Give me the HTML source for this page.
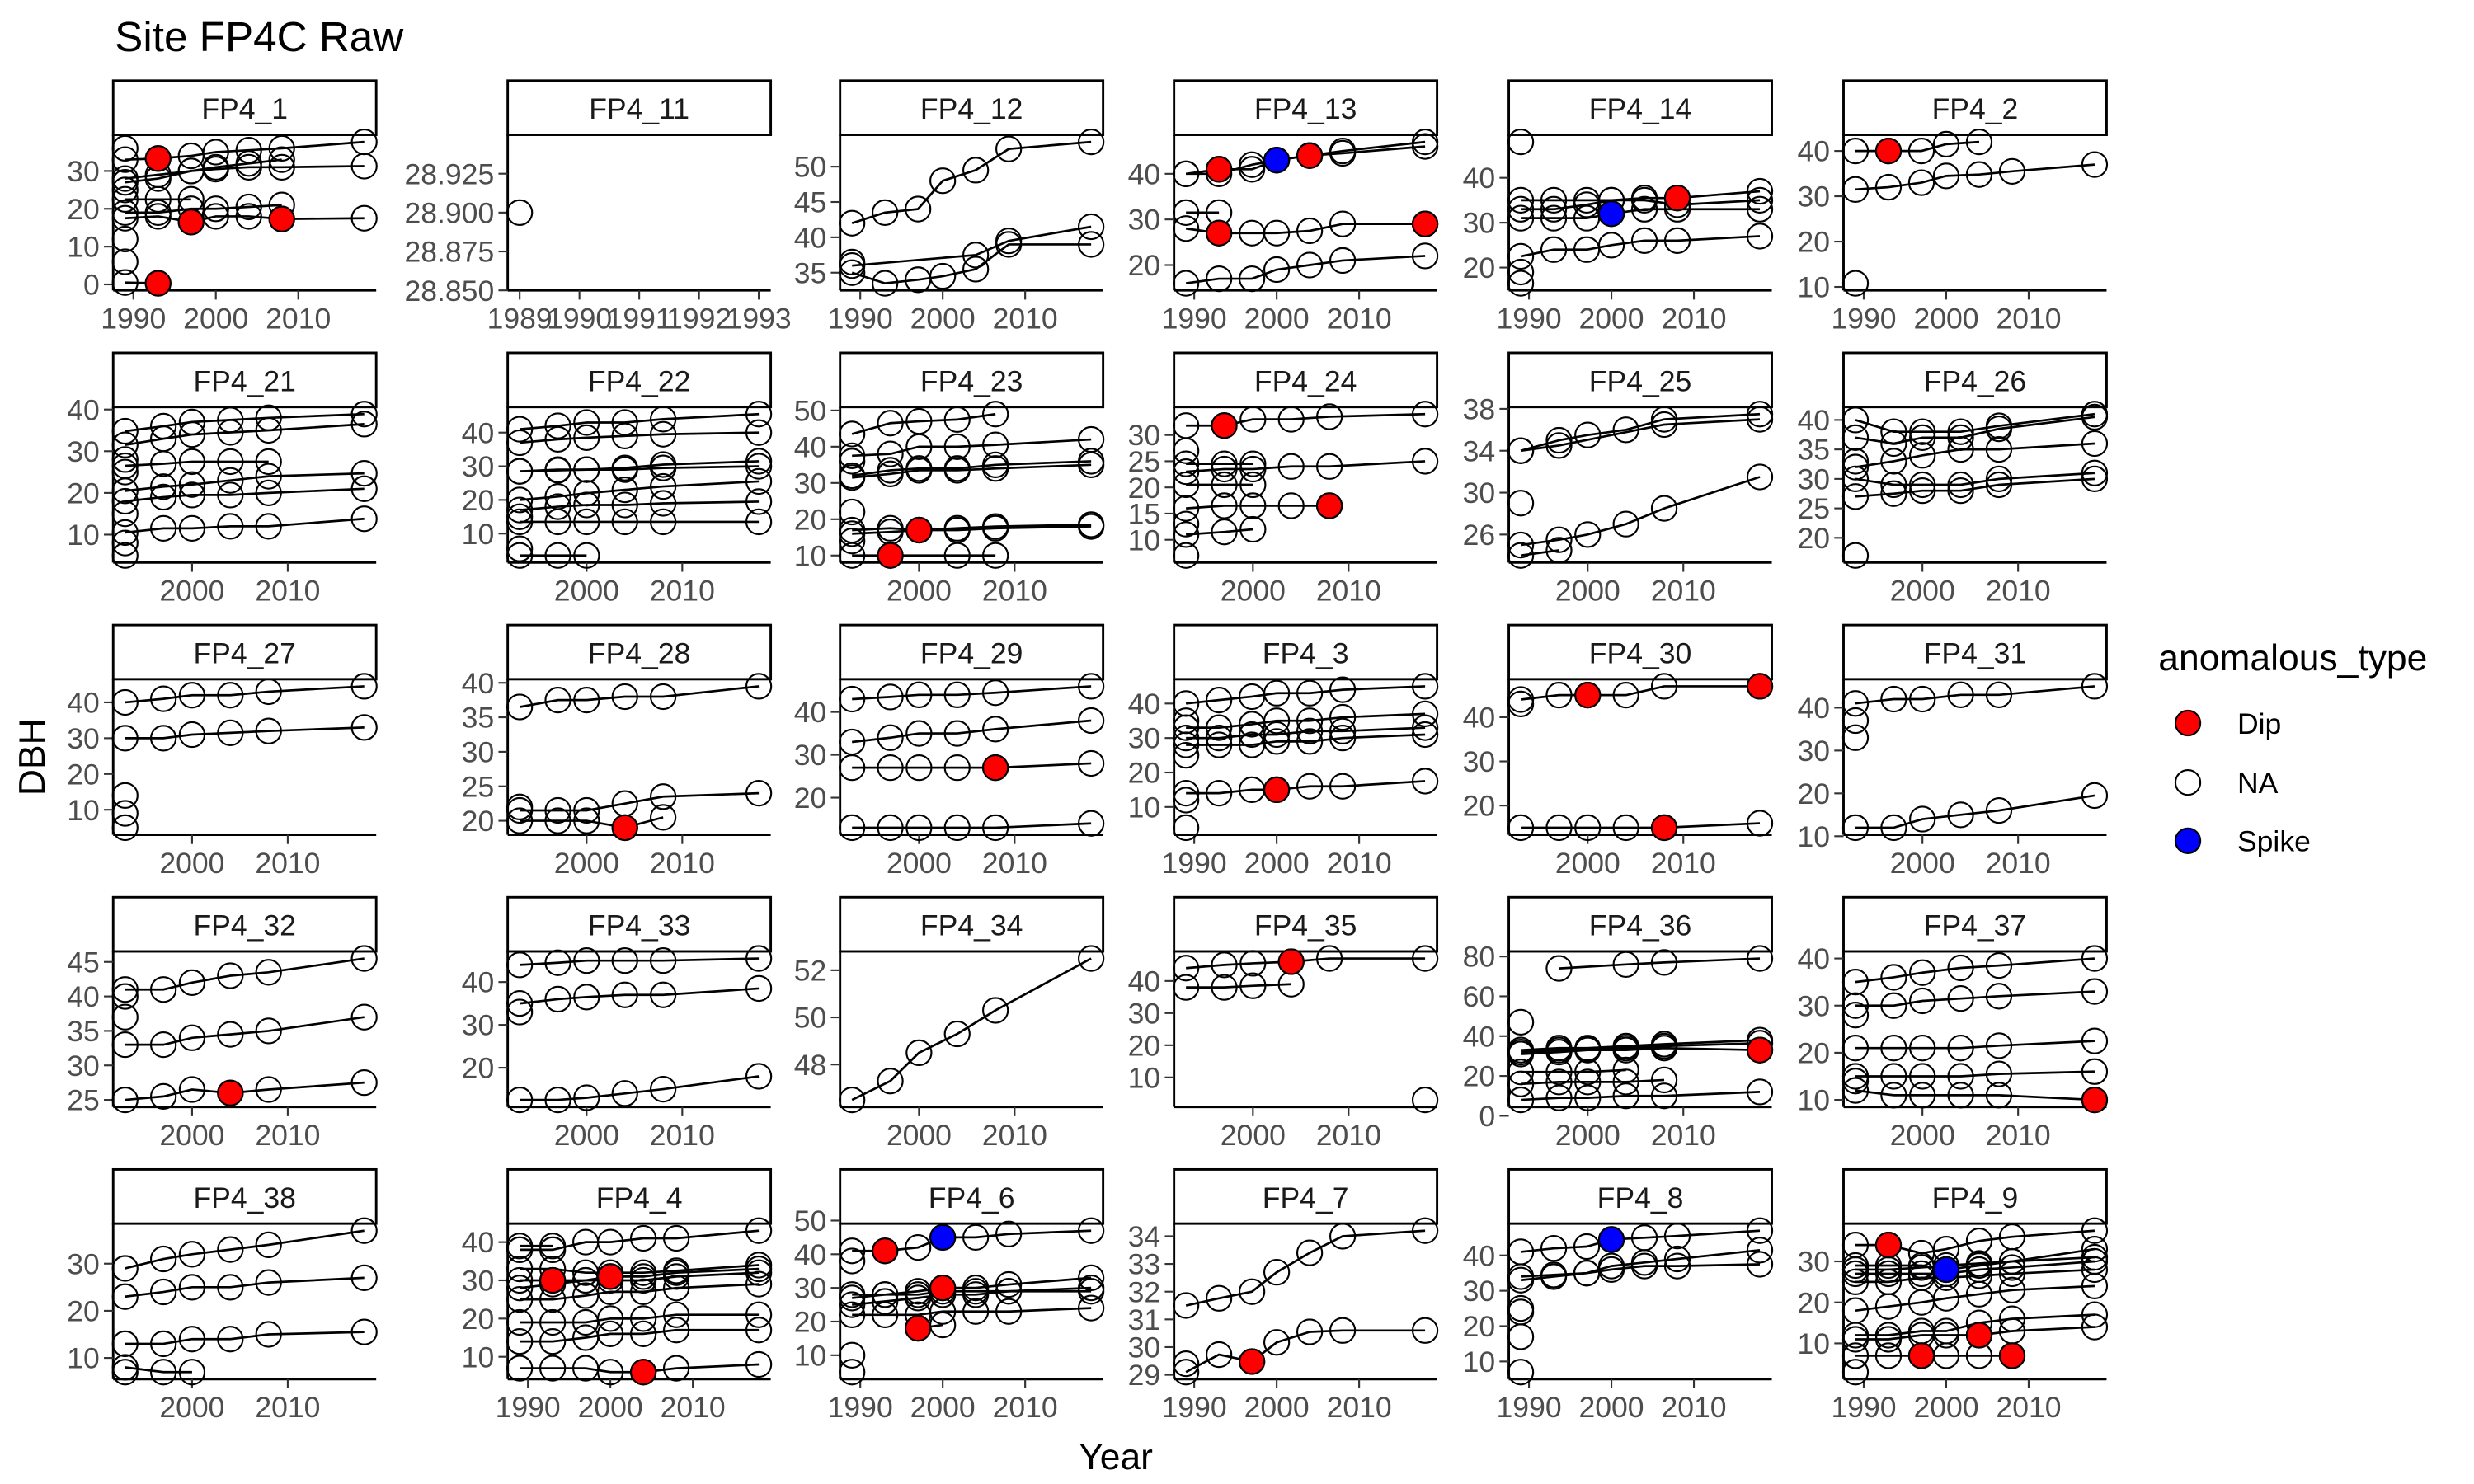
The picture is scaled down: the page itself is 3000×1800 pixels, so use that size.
<!DOCTYPE html>
<html><head><meta charset="utf-8"><title>Site FP4C Raw</title>
<style>html,body{margin:0;padding:0;background:#fff;}svg{display:block;font-family:"Liberation Sans",Arial,sans-serif;}</style>
</head><body>
<svg id="chart" xmlns="http://www.w3.org/2000/svg" width="3000" height="1800" viewBox="0 0 1552 931.2">
<rect x="0" y="0" width="1552" height="931.2" fill="#fff"/>
<text x="72" y="32" font-size="26.5" fill="#000">Site FP4C Raw</text>
<text transform="translate(28,475) rotate(-90)" text-anchor="middle" font-size="23" fill="#000">DBH</text>
<text x="700" y="922" text-anchor="middle" font-size="23" fill="#000">Year</text>
<g>
<text x="1354" y="420.6" font-size="23" fill="#000">anomalous_type</text>
<circle cx="1372.5" cy="453.7" r="7.8" fill="#FF0000" stroke="#000" stroke-width="1.1"/>
<text x="1403.5" y="460.3" font-size="18.4" fill="#000">Dip</text>
<circle cx="1372.5" cy="491" r="7.8" fill="#FFFFFF" stroke="#000" stroke-width="1.1"/>
<text x="1403.5" y="497.6" font-size="18.4" fill="#000">NA</text>
<circle cx="1372.5" cy="527.6" r="7.8" fill="#0000FF" stroke="#000" stroke-width="1.1"/>
<text x="1403.5" y="534.2" font-size="18.4" fill="#000">Spike</text>
</g>
<g id="panels"></g>
</svg>
<script>
const years = [1989,1993,1997,2000,2004,2008,2018];
const n = null;
const panelNames = ["FP4_1","FP4_11","FP4_12","FP4_13","FP4_14","FP4_2",
"FP4_21","FP4_22","FP4_23","FP4_24","FP4_25","FP4_26",
"FP4_27","FP4_28","FP4_29","FP4_3","FP4_30","FP4_31",
"FP4_32","FP4_33","FP4_34","FP4_35","FP4_36","FP4_37",
"FP4_38","FP4_4","FP4_6","FP4_7","FP4_8","FP4_9"];
const panelSeries = [
 [[33,33.3,34,35,35.5,36,37.7],[28,29,30,30.5,31,31,31.3],[27,28,30,31,32,33,n],[22.5,22.5,22.5,n,n,n,n],[19,19,20,20,20.5,21,n],[17.5,18,16.5,18,18,17.3,17.5],[0.5,0.3,n,n,n,n,n],[36,n,n,n,n,n,n],[12,n,n,n,n,n,n],[6,n,n,n,n,n,n],[25,n,n,n,n,n,n]],
 [[28.9,n,n,n,n,n,n]],
 [[42,43.5,44,48,49.5,52.5,53.5],[36,n,n,n,37.5,39.5,41.5],[35,33.5,34,34.5,35.5,39,39],[36.5,n,n,n,n,n,n]],
 [[40,41,41,43,44,44.5,46],[40,40,42,43,44,45,47],[31.5,31.5,n,n,n,n,n],[28,27,27,27,27.5,29,29],[16,17,17,19,20,21,22]],
 [[35,35,35,35,35.5,35.5,37],[31,31,31,32,33,33,33],[33,33,34,35,35,34,35],[22.5,24,24,25,26,26,27],[48,n,n,n,n,n,n],[19,n,n,n,n,n,n],[16.5,n,n,n,n,n,n]],
 [[40,40,40,41.5,42,n,n],[31.5,32,33,34.5,34.8,35.5,37],[10.8,n,n,n,n,n,n]],
 [[n,34.8,36,37,37.5,38,38.9],[n,31.5,33,34,34.5,35,36.5],[n,26.5,27,27.5,27.5,27.5,n],[n,20.5,21.5,22,23,24,24.7],[n,18,19,19.5,19.5,20,21],[n,10.5,11.5,11.5,12,12,13.8],[n,5,n,n,n,n,n],[n,8,n,n,n,n,n],[n,15,n,n,n,n,n],[n,25,n,n,n,n,n],[n,28,n,n,n,n,n]],
 [[n,41,42,43,43,44,45.5],[n,37,38,38.5,39,39.5,40],[n,28.5,28.8,29,29,29.5,30],[n,28.5,29,29,29.5,30.5,31.5],[n,20,21,22,23,24,25.5],[n,17,18,18.5,18.5,19,19.5],[n,13.5,13.5,13.5,13.5,13.5,13.5],[n,3.5,3.5,3.5,n,n,n],[n,15,n,n,n,n,n],[n,5.5,n,n,n,n,n]],
 [[n,43.5,46.5,47,47.5,49,n],[n,37.5,38,40,40,40.5,42],[n,32,33.5,34,34,35,36],[n,31.5,32.5,33.5,33.5,34,35],[n,17,17.5,17,17.5,18,18.5],[n,16,16.5,17,17,17.5,18],[n,10,10,n,10,10,n],[n,22,n,n,n,n,n],[n,14,n,n,n,n,n],[n,36,n,n,n,n,n]],
 [[n,31.8,31.8,33,33,33.5,34],[n,24.5,24.5,24.5,n,n,n],[n,23,23.5,23.5,24,24,25],[n,20.5,20.5,20.5,n,n,n],[n,16,16.5,16.5,16.5,16.5,n],[n,11,11.5,12,n,n,n],[n,7,n,n,n,n,n],[n,13,n,n,n,n,n],[n,27,n,n,n,n,n]],
 [[n,34,35,35.5,36,37,37.5],[n,34,34.5,n,n,36.5,37],[n,29,n,n,n,n,n],[n,25,25.5,26,27,28.5,31.5],[n,24,24.5,n,n,n,n]],
 [[n,40,38,38,38,39,41],[n,37,36,37,37,38.5,40.5],[n,32,33,34,35,35,36],[n,30,29,29,29,30,31],[n,27,27.5,28,28,29,30],[n,17,n,n,n,n,n],[n,33,n,n,n,n,n]],
 [[n,40,41,42,42,43,44.5],[n,30,30,31,31.5,32,33],[n,14,n,n,n,n,n],[n,9,n,n,n,n,n],[n,5,n,n,n,n,n]],
 [[n,36.5,37.5,37.5,38,38,39.5],[n,21.5,21.5,21.5,22.5,23.5,24],[n,20,20,20,19,20.5,n],[n,22,n,n,n,n,n]],
 [[n,43,43.5,44,44,44.5,46],[n,33,34,35,35,36,38],[n,27,27,27,27,27,28],[n,13,13,13,13,13,14]],
 [[40,41,42,43,43,44,45],[33,33,34,35,35,36,37],[30,30,31,31,32,32,33],[28,28,28,29,29,30,31],[14,14,15,15,16,16,17.5],[4,n,n,n,n,n,n],[12,n,n,n,n,n,n],[25,n,n,n,n,n,n],[35,n,n,n,n,n,n]],
 [[n,44,45,45,45,47,47],[n,15,15,15,15,15,16],[n,43,n,n,n,n,n]],
 [[n,41,42,42,43,43,45],[n,37,n,n,n,n,n],[n,33,n,n,n,n,n],[n,12,12,14,15,16,19.5]],
 [[n,41,41,42,43,43.5,45.5],[n,33,33,34,34.5,35,37],[n,25,25.5,26.5,26,26.5,27.5],[n,40,n,n,n,n,n],[n,37,n,n,n,n,n]],
 [[n,44,44.5,45,45,45,45.5],[n,35,36,36.5,37,37,38.5],[n,12.5,12.5,13,14,15,18],[n,33,n,n,n,n,n]],
 [[n,46.5,47.3,48.5,49.3,50.3,52.5]],
 [[n,44,45,45.5,46,47,47],[n,38,38,38.5,39,n,n],[n,n,n,n,n,n,3]],
 [[n,n,74,n,76,77,79],[n,33,34,34,35,36,38],[n,31,32,33,33,34,33],[n,32,33,33.5,34,35,36.5],[n,22,22,22,23,n,n],[n,16,17,17,17,18,n],[n,8,9,9,10,10,12],[n,47,n,n,n,n,n]],
 [[n,35,36,37,38,38.5,40],[n,30,30,31,31.5,32,33],[n,21,21,21,21,21.5,22.5],[n,15,15,15,15,15.5,16],[n,12,11,11,11,11,10],[n,28,n,n,n,n,n],[n,14,n,n,n,n,n]],
 [[n,29,31,32,33,34,37],[n,23,24,25,25,26,27],[n,13,13,14,14,15,15.5],[n,8,7,7,n,n,n],[n,7,n,n,n,n,n]],
 [[38,38,40,40,41,41,43],[39,39,n,n,n,n,n],[33,33,32,32,32,32.5,34],[30,30,30,31,31,32,33],[28,29,30,30,30,31,32],[25,25,26,27,27,28,29],[19,19,19,20,20,21,21],[14,14,15,16,16,17,17],[7,7,7,6,6,7,8]],
 [[41,41,42,45,45,46,47],[27,28,29,30,30,31,33],[25,26,27,28,28,29,30],[28,28,28,29,29,29,29],[22,22,22,23,23,23,24],[n,n,18,19,n,n,n],[10,n,n,n,n,n,n],[5,n,n,n,n,n,n],[38,n,n,n,n,n,n]],
 [[31.5,31.76,32,32.7,33.4,34,34.2],[29.1,29.73,29.48,30.17,30.55,30.6,30.6],[29.4,n,n,n,n,n,n]],
 [[41,42,42.5,44.5,45,45.5,47],[33,34,35,37,38,39,41.5],[34,34.5,35,36,37,37,37.5],[25,n,n,n,n,n,n],[17,n,n,n,n,n,n],[7,n,n,n,n,n,n],[24,n,n,n,n,n,n]],
 [[34,34,32,33,35,36,37.5],[29,29,29,28,29,30,33],[28,28,28.5,29,29.5,30,31],[27,27,27,27,28,28.5,30],[25,25,26,26,26.5,27,28],[18,19,20,21,22,23,24],[12,12,13,13,15,16,17],[11,11,12,12,12,13,14],[7,7,7,7,7,7,n],[3,n,n,n,n,n,n]]
];
const panelDips = [
 [[0,1],[5,2],[5,5],[6,1]],[],[],[[0,1],[0,4],[3,1],[3,6]],[[0,5]],[[0,1]],
 [],[],[[4,3],[6,2]],[[0,2],[4,5]],[],[],
 [],[[2,4]],[[2,5]],[[4,3]],[[0,3],[0,6],[1,5]],[],
 [[2,4]],[],[],[[0,4]],[[2,6]],[[4,6]],
 [],[[3,1],[3,3],[8,4]],[[0,1],[1,3],[5,2]],[[1,2]],[],[[0,1],[7,4],[8,2],[8,5]]
];
const panelSpikes = [
 [],[],[],[[0,3]],[[1,3]],[],
 [],[],[],[],[],[],
 [],[],[],[],[],[],
 [],[],[],[],[],[],
 [],[],[[0,3]],[],[[0,3]],[[1,3]]
];
const panelYTicks = [
 [0,10,20,30],[28.85,28.875,28.9,28.925],[35,40,45,50],[20,30,40],[20,30,40],[10,20,30,40],
 [10,20,30,40],[10,20,30,40],[10,20,30,40,50],[10,15,20,25,30],[26,30,34,38],[20,25,30,35,40],
 [10,20,30,40],[20,25,30,35,40],[20,30,40],[10,20,30,40],[20,30,40],[10,20,30,40],
 [25,30,35,40,45],[20,30,40],[48,50,52],[10,20,30,40],[0,20,40,60,80],[10,20,30,40],
 [10,20,30],[10,20,30,40],[10,20,30,40,50],[29,30,31,32,33,34],[10,20,30,40],[10,20,30]
];
const xTicksLong = [1990,2000,2010];
const xTicksShort = [2000,2010];
const xTicksSingle = [1989,1990,1991,1992,1993];

const SVGNS = "http://www.w3.org/2000/svg";
const root = document.getElementById("panels");
const colLeft = [71,318.5,527,736.5,946.5,1156.5];
const PW = 165, SH = 34, PH = 97.6;
function mk(tag, attrs, parent){
  const e = document.createElementNS(SVGNS, tag);
  for (const k in attrs) e.setAttribute(k, attrs[k]);
  parent.appendChild(e);
  return e;
}
panelNames.forEach(function(name, p){
  const r = Math.floor(p/6), c = p%6;
  const left = colLeft[c];
  const stripTop = 50.6 + 170.8*r;
  const top = stripTop + SH, bottom = top + PH;
  const series = panelSeries[p];
  const g = mk("g", {}, root);
  
  
  let xmin=Infinity,xmax=-Infinity,ymin=Infinity,ymax=-Infinity;
  series.forEach(function(s){ s.forEach(function(v,i){ if(v!==null){ xmin=Math.min(xmin,years[i]); xmax=Math.max(xmax,years[i]); ymin=Math.min(ymin,v); ymax=Math.max(ymax,v);} }); });
  let x0,x1,y0,y1,xt;
  if (xmin===xmax){ x0=1988.8; x1=1993.2; xt=xTicksSingle; }
  else { const e=(xmax-xmin)*0.05; x0=xmin-e; x1=xmax+e; xt = xmin<1991 ? xTicksLong : xTicksShort; }
  if (ymin===ymax){ y0=ymin-0.05; y1=ymin+0.05; }
  else { const e=(ymax-ymin)*0.05; y0=ymin-e; y1=ymax+e; }
  const sx = function(v){ return left + (v-x0)/(x1-x0)*PW; };
  const sy = function(v){ return bottom - (v-y0)/(y1-y0)*PH; };
  const sr = mk("rect", {x:left, y:stripTop, width:PW, height:SH, fill:"#fff", stroke:"#000", "stroke-width":1.5}, g);
  
  
  const st = mk("text", {x:left+PW/2, y:stripTop+24, "text-anchor":"middle", "font-size":18.4, fill:"#1A1A1A"}, g);
  st.textContent = name;
  
  
  const ax = mk("line", {x1:left, y1:top, x2:left, y2:bottom, stroke:"#000", "stroke-width":1.5}, g);
  
  
  const bx = mk("line", {x1:left, y1:bottom, x2:left+PW, y2:bottom, stroke:"#000", "stroke-width":1.5}, g);
  
  
  panelYTicks[p].forEach(function(t){
    const y = sy(t);
    const tk = mk("line", {x1:left-5.8, y1:y, x2:left, y2:y, stroke:"#333", "stroke-width":1.1}, g);
    
    
    const tl = mk("text", {x:left-8.5, y:y+6.5, "text-anchor":"end", "font-size":18.4, fill:"#4D4D4D"}, g);
    tl.textContent = (p===1) ? t.toFixed(3) : String(t);
    
    
  });
  xt.forEach(function(t){
    const x = sx(t);
    const tk = mk("line", {x1:x, y1:bottom, x2:x, y2:bottom+5.8, stroke:"#333", "stroke-width":1.1}, g);
    
    
    const tl = mk("text", {x:x, y:bottom+24, "text-anchor":"middle", "font-size":18.4, fill:"#4D4D4D"}, g);
    tl.textContent = String(t);
    
    
  });
  series.forEach(function(s){
    const pts = [];
    s.forEach(function(v,i){ if(v!==null) pts.push(sx(years[i]).toFixed(2)+","+sy(v).toFixed(2)); });
    if (pts.length>1){
      const pl = mk("polyline", {points:pts.join(" "), fill:"none", stroke:"#000", "stroke-width":1.4}, g);
      
      
    }
  });
  series.forEach(function(s, si){
    s.forEach(function(v,i){
      if(v===null) return;
      const ci = mk("circle", {cx:sx(years[i]), cy:sy(v), r:7.8, fill:"none", stroke:"#000", "stroke-width":1.1}, g);
      
      
    });
  });
  panelDips[p].forEach(function(a){
    const v = series[a[0]][a[1]];
    if (v===null) return;
    const ci = mk("circle", {cx:sx(years[a[1]]), cy:sy(v), r:7.8, fill:"#FF0000", stroke:"#000", "stroke-width":1.1}, g);
    
    
  });
  panelSpikes[p].forEach(function(a){
    const v = series[a[0]][a[1]];
    if (v===null) return;
    const ci = mk("circle", {cx:sx(years[a[1]]), cy:sy(v), r:7.8, fill:"#0000FF", stroke:"#000", "stroke-width":1.1}, g);
    
    
  });
});
</script>
</body></html>
